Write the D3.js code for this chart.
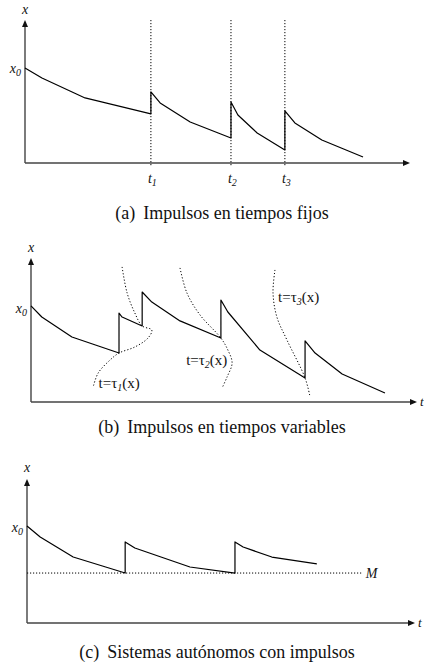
<!DOCTYPE html>
<html>
<head>
<meta charset="utf-8">
<script src="https://cdn.jsdelivr.net/npm/d3@7"></script>
</head>
<body style="margin:0;background:#fff">
<svg id="fig" width="424" height="667" style="display:block"></svg>
<script>
// trajectories: each segment is a list of [t, x]; consecutive segments share t at an impulse
var segmentsA = [
  [[0, 6.64], [0.44, 5.94], [1.56, 4.55], [3.27, 3.43]],
  [[3.27, 4.97], [3.51, 4.20], [4.29, 2.87], [5.35, 1.75]],
  [[5.35, 4.27], [5.53, 3.36], [6.03, 2.10], [6.75, 0.91]],
  [[6.75, 3.64], [7.01, 2.80], [7.71, 1.61], [8.78, 0.42]]
];
var impulseTimesA = [3.27, 5.35, 6.75];
var tickSubsA = ["1", "2", "3"];

var segmentsB = [
  [[0, 6.67], [0.28, 5.9], [1.06, 4.51], [2.28, 3.40]],
  [[2.28, 6.18], [2.36, 5.9], [2.88, 5.28]],
  [[2.88, 7.64], [3.13, 6.94], [3.86, 5.63], [4.92, 4.44]],
  [[4.92, 7.08], [5.10, 6.25], [5.93, 3.61], [7.10, 1.67]],
  [[7.10, 4.24], [7.36, 3.40], [8.06, 1.94], [9.17, 0.63]]
];
var surfaceB1 = [[2.36, 9.38], [2.49, 7.57], [2.69, 6.18], [2.88, 5.28], [3.13, 5.0], [3.03, 4.44],
                 [2.69, 3.82], [2.28, 3.40], [2.05, 2.92], [1.74, 2.01], [1.61, 1.04]];
var surfaceB2 = [[3.86, 9.31], [4.04, 7.57], [4.38, 6.04], [4.92, 4.44], [5.10, 3.61], [5.21, 2.71],
                 [5.08, 1.74], [4.95, 0.97]];
var surfaceB3 = [[6.32, 9.17], [6.27, 7.57], [6.37, 5.90], [6.63, 4.31], [7.10, 1.67], [7.23, 0.35]];
var surfaceLabelsB = ["1", "2", "3"];

var segmentsC = [
  [[0, 6.74], [0.34, 5.97], [1.19, 4.58], [2.53, 3.47]],
  [[2.53, 5.63], [2.78, 5.21], [4.20, 3.89], [5.36, 3.47]],
  [[5.36, 5.63], [5.57, 5.28], [6.31, 4.58], [7.47, 4.10]]
];
var levelM = 3.47;
var levelMEnd = 8.63;

var captions = [
  ["(a)", "Impulsos en tiempos fijos"],
  ["(b)", "Impulsos en tiempos variables"],
  ["(c)", "Sistemas autónomos con impulsos"]
];

var serif = "Liberation Serif";
var svg = d3.select("#fig");

var panels = [
  {t: d3.scaleLinear().domain([0, 10]).range([25, 410]), x: d3.scaleLinear().domain([0, 10]).range([163, 20]),
   tLabel: false, xLabelY: 14, x0Y: 73, capX: 222, capY: 219},
  {t: d3.scaleLinear().domain([0, 10]).range([31, 417]), x: d3.scaleLinear().domain([0, 10]).range([402, 258]),
   tLabel: true, xLabelY: 252, x0Y: 313, capX: 222, capY: 433},
  {t: d3.scaleLinear().domain([0, 10]).range([27, 415]), x: d3.scaleLinear().domain([0, 10]).range([623, 479]),
   tLabel: true, xLabelY: 472, x0Y: 532, capX: 217, capY: 658}
];

function label(g, x, y, size, italic) {
  return g.append("text").attr("x", x).attr("y", y)
    .attr("font-family", serif).attr("font-size", size)
    .attr("font-style", italic ? "italic" : "normal").attr("fill", "#111");
}

function drawAxes(p) {
  var g = svg.append("g");
  var x0 = p.t.range()[0], x1 = p.t.range()[1];
  var y0 = p.x.range()[0], y1 = p.x.range()[1];
  g.append("line").attr("x1", x0).attr("y1", y0).attr("x2", x1 - 4).attr("y2", y0)
    .attr("stroke", "#444").attr("stroke-width", 1.4);
  g.append("line").attr("x1", x0).attr("y1", y0).attr("x2", x0).attr("y2", y1 + 4)
    .attr("stroke", "#444").attr("stroke-width", 1.4);
  g.append("path").attr("d", "M" + x1 + "," + y0 + "l-7,-3l0,6z").attr("fill", "#111");
  g.append("path").attr("d", "M" + x0 + "," + y1 + "l-3,7l6,0z").attr("fill", "#111");

  label(g, x0, p.xLabelY, 14, true).attr("text-anchor", "middle").text("x");

  var x0t = label(g, x0 - 4, p.x0Y, 14, true).attr("text-anchor", "end");
  x0t.append("tspan").text("x");
  x0t.append("tspan").attr("dy", 3).attr("font-size", 10).text("0");

  if (p.tLabel) label(g, x1 + 3, y0 + 4, 13, true).text("t");

  var cap = label(g, p.capX, p.capY, 18, false).attr("text-anchor", "middle");
  return {g: g, cap: cap};
}

function drawTrajectory(p, segments) {
  var pts = [].concat.apply([], segments);
  var path = d3.line()
    .x(function(d) { return p.t(d[0]); })
    .y(function(d) { return p.x(d[1]); });
  svg.append("path").attr("d", path(pts))
    .attr("fill", "none").attr("stroke", "#000").attr("stroke-width", 1.2)
    .attr("stroke-linejoin", "round");
}

function drawCaption(cap, c) {
  cap.append("tspan").text(c[0]);
  cap.append("tspan").attr("dx", 8).text(c[1]);
}

// (a) fixed impulse times
var axA = drawAxes(panels[0]);
var pA = panels[0];
axA.g.selectAll(".vline").data(impulseTimesA).enter().append("line")
  .attr("x1", function(d) { return pA.t(d); }).attr("x2", function(d) { return pA.t(d); })
  .attr("y1", pA.x.range()[1]).attr("y2", pA.x.range()[0] + 3)
  .attr("stroke", "#000").attr("stroke-width", 1).attr("stroke-dasharray", "1.2,1.8");
impulseTimesA.forEach(function(d, i) {
  var tl = label(axA.g, pA.t(d) - 3, 183, 14, true);
  tl.append("tspan").text("t");
  tl.append("tspan").attr("dy", 3).attr("font-size", 10).text(tickSubsA[i]);
});
drawTrajectory(pA, segmentsA);
drawCaption(axA.cap, captions[0]);

// (b) variable impulse times
var axB = drawAxes(panels[1]);
var pB = panels[1];
var smooth = d3.line().curve(d3.curveCatmullRom.alpha(0.5))
  .x(function(d) { return pB.t(d[0]); })
  .y(function(d) { return pB.x(d[1]); });
[surfaceB1, surfaceB2, surfaceB3].forEach(function(s) {
  svg.append("path").attr("d", smooth(s)).attr("fill", "none")
    .attr("stroke", "#000").attr("stroke-width", 1).attr("stroke-dasharray", "1.2,2");
});
drawTrajectory(pB, segmentsB);
var labelPosB = [[1.75, 0.97], [4.02, 2.57], [6.4, 6.94]];
labelPosB.forEach(function(lp, i) {
  var t = label(svg, pB.t(lp[0]), pB.x(lp[1]), 15, false);
  t.append("tspan").text("t=τ");
  t.append("tspan").attr("font-style", "italic").attr("dy", 3).attr("font-size", 10).text(surfaceLabelsB[i]);
  t.append("tspan").attr("dy", -3).text("(x)");
});
drawCaption(axB.cap, captions[1]);

// (c) autonomous system with impulses
var axC = drawAxes(panels[2]);
var pC = panels[2];
svg.append("line").attr("x1", pC.t(0)).attr("x2", pC.t(levelMEnd))
  .attr("y1", pC.x(levelM)).attr("y2", pC.x(levelM))
  .attr("stroke", "#000").attr("stroke-width", 1).attr("stroke-dasharray", "1.2,1.8");
label(svg, pC.t(levelMEnd) + 4, pC.x(levelM) + 5, 14, true).text("M");
drawTrajectory(pC, segmentsC);
drawCaption(axC.cap, captions[2]);

// spell out font settings on every tspan
svg.selectAll("tspan").each(function() {
  var el = d3.select(this), parent = d3.select(this.parentNode);
  el.attr("font-family", serif);
  ["font-size", "font-style"].forEach(function(a) {
    if (el.attr(a) == null) el.attr(a, parent.attr(a));
  });
});
</script>
</body>
</html>
